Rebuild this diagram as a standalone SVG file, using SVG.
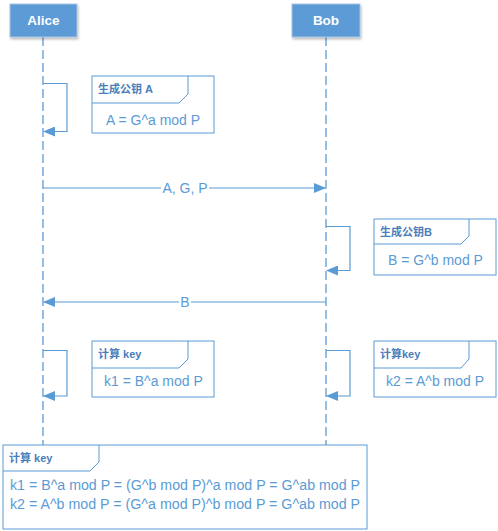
<svg xmlns="http://www.w3.org/2000/svg" width="498" height="531" viewBox="0 0 498 531">
<defs>
<marker id="ah" markerWidth="12" markerHeight="10" refX="11" refY="5" orient="auto" markerUnits="userSpaceOnUse">
<path d="M0,0 L12,5 L0,10 Z" fill="#5B9BD5"/>
</marker>
<filter id="sh" x="-20%" y="-20%" width="140%" height="160%">
<feDropShadow dx="1" dy="2" stdDeviation="1.2" flood-color="#000" flood-opacity="0.25"/>
</filter>
</defs>
<style>
.head{fill:#5B9BD5;stroke:#A9C4E2;stroke-width:1}
.htxt{font-family:"Liberation Sans",Arial,sans-serif;font-size:13.5px;font-weight:bold;fill:#fff}
.life{stroke:#5B9BD5;stroke-width:1.3;stroke-dasharray:9,4;fill:none}
.msg{stroke:#5B9BD5;stroke-width:1.2;fill:none}
.note{fill:#fff;stroke:#5B9BD5;stroke-width:1}
.tab{fill:none;stroke:#5B9BD5;stroke-width:1}
.lab{font-family:"Liberation Sans","Noto Sans CJK SC",sans-serif;font-size:11px;font-weight:bold;fill:#4A7EBB}
.txt{font-family:"Liberation Sans","Noto Sans CJK SC",sans-serif;font-size:14px;fill:#5B9BD5}
</style>
<g id="lifelines">
<line class="life" x1="43" y1="37" x2="43" y2="445"/>
<line class="life" x1="326" y1="37" x2="326" y2="445"/>
</g>
<g id="alice"><rect class="head" x="10" y="4" width="67" height="33" filter="url(#sh)"/><text class="htxt" x="43.5" y="25" text-anchor="middle">Alice</text></g>
<g id="bob"><rect class="head" x="292" y="4" width="68" height="33" filter="url(#sh)"/><text class="htxt" x="326" y="25" text-anchor="middle">Bob</text></g>
<g id="connectors">
<polyline class="msg" points="43,83.5 67,83.5 67,131.5 44,131.5" marker-end="url(#ah)"/>
<line class="msg" x1="43" y1="188" x2="325" y2="188" marker-end="url(#ah)"/>
<rect x="161" y="180" width="48" height="16" fill="#fff"/>
<text class="txt" x="185" y="193" text-anchor="middle">A, G, P</text>
<polyline class="msg" points="326,226.5 350,226.5 350,270.5 327,270.5" marker-end="url(#ah)"/>
<line class="msg" x1="326" y1="302" x2="44" y2="302" marker-end="url(#ah)"/>
<rect x="179" y="294" width="12" height="16" fill="#fff"/>
<text class="txt" x="185" y="307" text-anchor="middle">B</text>
<polyline class="msg" points="43,350.5 67,350.5 67,396 44,396" marker-end="url(#ah)"/>
<polyline class="msg" points="326,350.5 350,350.5 350,396 327,396" marker-end="url(#ah)"/>
</g>
<g id="note1">
<rect class="note" x="92" y="76" width="122" height="57"/>
<path class="tab" d="M188,76 V94 L179,103 H92"/>
<text class="lab" x="98" y="93">生成公钥 A</text>
<text class="txt" x="106" y="125">A = G^a mod P</text>
</g>
<g id="note2">
<rect class="note" x="374" y="219" width="122" height="56"/>
<path class="tab" d="M469,219 V236 L461,244 H374"/>
<text class="lab" x="380" y="236">生成公钥B</text>
<text class="txt" x="388" y="265">B = G^b mod P</text>
</g>
<g id="note3">
<rect class="note" x="92" y="341" width="122" height="56"/>
<path class="tab" d="M188,341 V359 L179,368 H92"/>
<text class="lab" x="98" y="358">计算 key</text>
<text class="txt" x="104" y="386">k1 = B^a mod P</text>
</g>
<g id="note4">
<rect class="note" x="374" y="341" width="122" height="56"/>
<path class="tab" d="M469,341 V359 L461,368 H374"/>
<text class="lab" x="380" y="358">计算key</text>
<text class="txt" x="386" y="386">k2 = A^b mod P</text>
</g>
<g id="frame">
<rect class="note" x="3" y="445" width="364" height="84"/>
<path class="tab" d="M99,445 V462 L90,471 H3"/>
<text class="lab" x="9" y="462">计算 key</text>
<text class="txt" x="10" y="490" textLength="350" lengthAdjust="spacingAndGlyphs">k1 = B^a mod P = (G^b mod P)^a mod P = G^ab mod P</text>
<text class="txt" x="10" y="509" textLength="350" lengthAdjust="spacingAndGlyphs">k2 = A^b mod P = (G^a mod P)^b mod P = G^ab mod P</text>
</g>
</svg>
